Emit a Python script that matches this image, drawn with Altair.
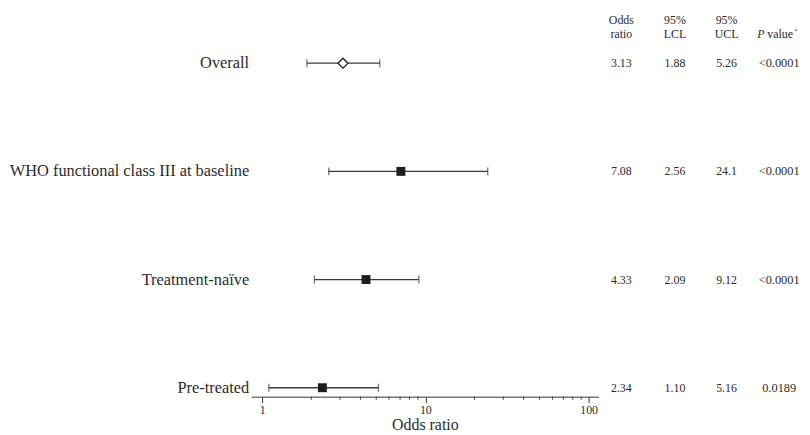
import altair as alt
import pandas as pd

# ---- data ----
labels = ["Overall", "WHO functional class III at baseline", "Treatment-naïve", "Pre-treated"]
odds = [3.13, 7.08, 4.33, 2.34]
lcl = [1.88, 2.56, 2.09, 1.10]
ucl = [5.26, 24.1, 9.12, 5.16]
odds_txt = ["3.13", "7.08", "4.33", "2.34"]
lcl_txt = ["1.88", "2.56", "2.09", "1.10"]
ucl_txt = ["5.26", "24.1", "9.12", "5.16"]
p_txt = ["<0.0001", "<0.0001", "<0.0001", "0.0189"]
marker = ["open", "filled", "filled", "filled"]
header_line1 = ["Odds", "95%", "95%"]
header_line2 = ["ratio", "LCL", "UCL"]
major_ticks = [1, 10, 100]
minor_ticks = [2, 3, 4, 5, 6, 7, 8, 9, 20, 30, 40, 50, 60, 70, 80, 90]

df = pd.DataFrame(dict(label=labels, odds=odds, lcl=lcl, ucl=ucl,
                       odds_txt=odds_txt, lcl_txt=lcl_txt, ucl_txt=ucl_txt,
                       p_txt=p_txt, marker=marker))

W, H = 350, 345
FONT = "Liberation Serif"
INK = "#2b2b2b"
LINE = "#3a3a3a"

xscale = alt.Scale(type="log", domain=[0.857, 115], nice=False)
xaxis = alt.Axis(values=major_ticks, format="d", grid=False, labelFlush=False)


def xenc(field):
    return alt.X(field, scale=xscale, axis=xaxis, title="Odds ratio")


yenc = alt.Y("label:N", sort=labels,
             scale=alt.Scale(type="point", padding=0.0826), axis=None)

base = alt.Chart(df)

ci = base.mark_rule(color=LINE, strokeWidth=1.3).encode(
    x=xenc("lcl:Q"), x2="ucl:Q", y=yenc)
cap_lo = base.mark_tick(color=LINE, size=8, thickness=1.3).encode(
    x=xenc("lcl:Q"), y=yenc)
cap_hi = base.mark_tick(color=LINE, size=8, thickness=1.3).encode(
    x=xenc("ucl:Q"), y=yenc)

squares = base.transform_filter(alt.datum.marker == "filled").mark_point(
    shape="square", filled=True, size=81, color="#1e1e1e", opacity=1
).encode(x=xenc("odds:Q"), y=yenc)

diamond = base.transform_filter(alt.datum.marker == "open").mark_point(
    shape="diamond", filled=True, fill="white", stroke="#1e1e1e",
    strokeWidth=1.3, size=100, opacity=1
).encode(x=xenc("odds:Q"), y=yenc)

minor = alt.Chart(pd.DataFrame({"m": minor_ticks})).mark_rule(
    color="#333333", strokeWidth=1
).encode(x=xenc("m:Q"), y=alt.value(H), y2=alt.value(H + 3))

row_labels = base.mark_text(align="right", baseline="middle", font=FONT,
                            fontSize=16.5, color=INK).encode(
    x=alt.value(-2), y=yenc, text="label:N")

layers = [ci, cap_lo, cap_hi, minor, diamond, squares, row_labels]

col_x = [373, 427, 479]
for field, xp in zip(["odds_txt", "lcl_txt", "ucl_txt"], col_x):
    layers.append(base.mark_text(align="center", baseline="middle", font=FONT,
                                 fontSize=12, color=INK).encode(
        x=alt.value(xp), y=yenc, text=f"{field}:N"))
layers.append(base.mark_text(align="center", baseline="middle", font=FONT,
                             fontSize=12.5, color=INK).encode(
    x=alt.value(532), y=yenc, text="p_txt:N"))

hdr = pd.DataFrame({"l1": header_line1, "l2": header_line2, "col": ["a", "b", "c"]})
for i, xp in enumerate(col_x):
    sub = alt.Chart(hdr).transform_filter(alt.datum.col == ["a", "b", "c"][i])
    layers.append(sub.mark_text(align="center", baseline="alphabetic", font=FONT,
                                fontSize=12, color=INK).encode(
        x=alt.value(xp), y=alt.value(-30), text="l1:N"))
    layers.append(sub.mark_text(align="center", baseline="alphabetic", font=FONT,
                                fontSize=12, color=INK).encode(
        x=alt.value(xp), y=alt.value(-16), text="l2:N"))

ptitle = pd.DataFrame({"p": ["P"], "v": ["value"], "s": ["*"]})
pc = alt.Chart(ptitle)
layers.append(pc.mark_text(align="left", baseline="alphabetic", font=FONT,
                           fontSize=12, fontStyle="italic", color=INK).encode(
    x=alt.value(510), y=alt.value(-16), text="p:N"))
layers.append(pc.mark_text(align="left", baseline="alphabetic", font=FONT,
                           fontSize=12, color=INK).encode(
    x=alt.value(520), y=alt.value(-16), text="v:N"))
layers.append(pc.mark_text(align="left", baseline="alphabetic", font=FONT,
                           fontSize=7, color=INK).encode(
    x=alt.value(547), y=alt.value(-21), text="s:N"))

chart = alt.layer(*layers).properties(
    width=W, height=H,
    padding={"left": 245, "top": 45, "right": 205, "bottom": 36},
    autosize=alt.AutoSizeParams(type="none"),
).configure_view(stroke=None).configure_axis(
    domainColor="#333333", tickColor="#333333", tickSize=6, domainWidth=1,
    labelFont=FONT, labelFontSize=12, labelColor=INK, labelPadding=2,
    titleFont=FONT, titleFontSize=16, titleFontWeight="normal", titleColor=INK,
    titlePadding=1,
)

chart.save("out.html", embed_options={"renderer": "svg", "actions": False})
